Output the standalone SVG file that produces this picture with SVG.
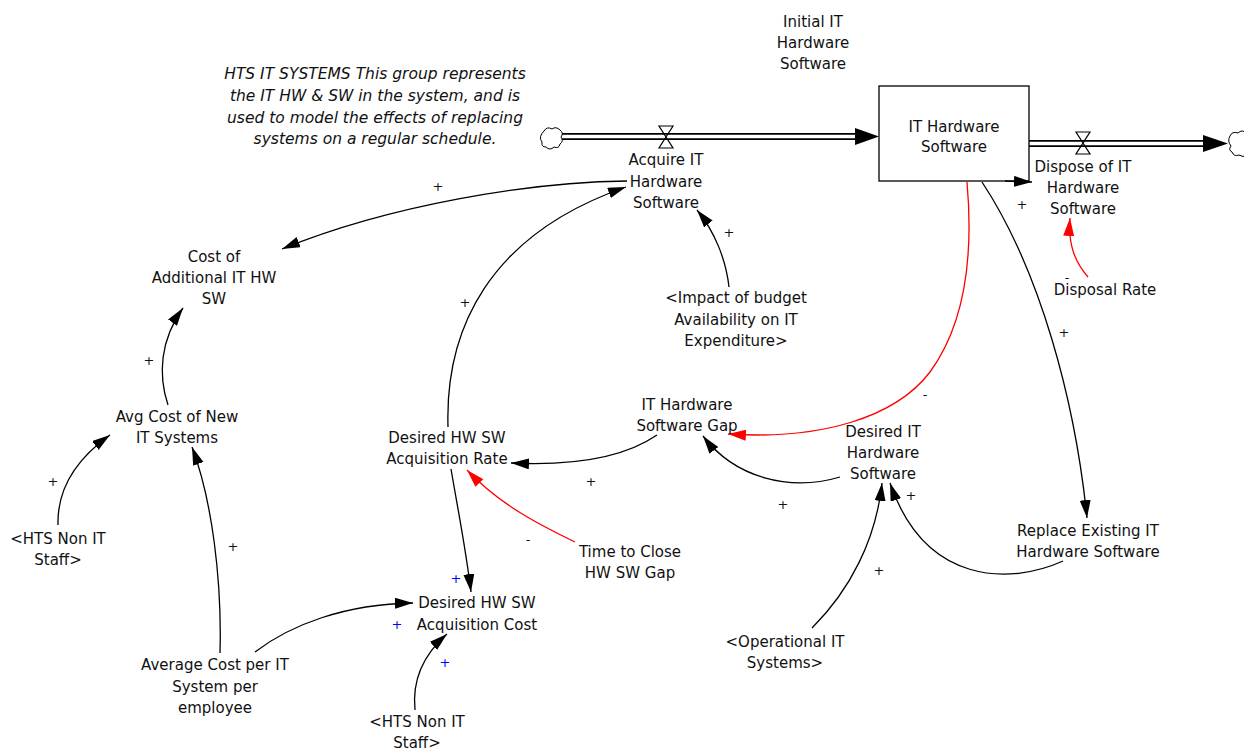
<svg xmlns="http://www.w3.org/2000/svg" width="1244" height="750" viewBox="0 0 1244 750">
  <style>
    text { font-family: "DejaVu Sans", Verdana, sans-serif; font-size: 15px; fill: #111; text-anchor: middle; }
    .note { font-style: italic; font-size: 15.5px; }
    .pol { font-size: 13px; }
    .blue { fill: #0000ff; }
    .link { fill: none; stroke: #000; stroke-width: 1.3; marker-end: url(#arr); }
    .neg { fill: none; stroke: #ff0000; stroke-width: 1.3; marker-end: url(#arrRed); }
    .pipeOuter { fill: none; stroke: #000; stroke-width: 7; }
    .pipeInner { fill: none; stroke: #fff; stroke-width: 3.6; }
    .valve { fill: none; stroke: #000; stroke-width: 1.2; }
    .cloud { fill: #fff; stroke: #000; stroke-width: 1; }
  </style>
  <defs>
    <marker id="arr" markerUnits="userSpaceOnUse" markerWidth="19" markerHeight="12" refX="18" refY="5.5" orient="auto">
      <path d="M0,0 L18,5.5 L0,11 z" fill="#000"/>
    </marker>
    <marker id="arrRed" markerUnits="userSpaceOnUse" markerWidth="19" markerHeight="12" refX="18" refY="5.5" orient="auto">
      <path d="M0,0 L18,5.5 L0,11 z" fill="#ff0000"/>
    </marker>
  </defs>

  <rect width="1244" height="750" fill="#fff"/>

  <!-- group comment -->
  <g id="comment">
    <text class="note" x="375" y="79">HTS IT SYSTEMS This group represents</text>
    <text class="note" x="375" y="101">the IT HW &amp; SW in the system, and is</text>
    <text class="note" x="375" y="123">used to model the effects of replacing</text>
    <text class="note" x="375" y="144">systems on a regular schedule.</text>
  </g>

  <!-- flows: pipes, valves, clouds -->
  <g id="inflow">
    <path class="pipeOuter" d="M562,136.5 L857,136.5"/>
    <path class="pipeInner" d="M562,136.5 L857,136.5"/>
    <polygon points="855,128 879,136.5 855,145" fill="#000"/>
    <path class="valve" d="M659,126 L673,126 L659,148 L673,148 Z"/>
    <path class="cloud" d="M544,131 q3,-5 8,-2 q4,-3 8,1 q4,3 1,7 q3,4 -1,7 q-1,5 -6,3 q-4,4 -8,0 q-5,0 -4,-5 q-4,-5 2,-11 z"/>
  </g>
  <g id="outflow">
    <path class="pipeOuter" d="M1029,143.5 L1205,143.5"/>
    <path class="pipeInner" d="M1029,143.5 L1205,143.5"/>
    <polygon points="1203,135 1228,143.5 1203,152" fill="#000"/>
    <path class="valve" d="M1076,132 L1090,132 L1076,154 L1090,154 Z"/>
    <path class="cloud" d="M1230,136 q2,-5 8,-3 q4,-4 9,0 l0,22 q-4,3 -8,0 q-5,2 -7,-3 q-4,-2 -1,-6 q-4,-5 -1,-10 z"/>
  </g>

  <!-- stock -->
  <g id="stock-it-hw-sw">
    <rect x="879" y="86" width="150" height="95" fill="#fff" stroke="#000" stroke-width="1.3"/>
    <text x="954" y="132">IT Hardware</text>
    <text x="954" y="152">Software</text>
  </g>

  <!-- connectors -->
  <g id="connectors">
    <path class="link" d="M627,181 C530,182 390,205 282,249"/>
    <path class="link" d="M168,405 C158,375 160,340 183,308"/>
    <path class="link" d="M58,525 C57,490 75,460 110,435"/>
    <path class="link" d="M220,653 C222,580 212,500 192,447"/>
    <path class="link" d="M448,427 C445,330 488,235 626,187"/>
    <path class="link" d="M729,287 C726,260 715,232 697,210"/>
    <path class="link" d="M1005,181 L1032,182"/>
    <path class="neg" d="M1088,277 C1075,262 1068,245 1070,218"/>
    <path class="link" d="M982,182 C1040,270 1075,400 1087,518"/>
    <path class="neg" d="M967,182 C973,250 968,320 930,372 C895,418 820,440 728,434"/>
    <path class="link" d="M657,435 C625,457 575,466 511,463"/>
    <path class="neg" d="M575,542 C540,525 500,505 467,470"/>
    <path class="link" d="M840,477 C790,492 735,478 703,436"/>
    <path class="link" d="M1063,561 C1010,585 925,585 890,483"/>
    <path class="link" d="M812,628 C850,590 876,540 882,483"/>
    <path class="link" d="M451,469 C458,510 466,550 471,592"/>
    <path class="link" d="M255,652 C290,625 345,604 413,603"/>
    <path class="link" d="M415,710 C412,680 423,655 447,634"/>

    <!-- polarity marks -->
    <text class="pol" x="438" y="191">+</text>
    <text class="pol" x="149" y="365">+</text>
    <text class="pol" x="53" y="486">+</text>
    <text class="pol" x="233" y="551">+</text>
    <text class="pol" x="465" y="307">+</text>
    <text class="pol" x="729" y="237">+</text>
    <text class="pol" x="1022" y="209">+</text>
    <text class="pol" x="1067" y="282">-</text>
    <text class="pol" x="1064" y="337">+</text>
    <text class="pol" x="925" y="399">-</text>
    <text class="pol" x="591" y="486">+</text>
    <text class="pol" x="528" y="544">-</text>
    <text class="pol" x="783" y="509">+</text>
    <text class="pol" x="911" y="500">+</text>
    <text class="pol" x="879" y="575">+</text>
    <text class="pol blue" x="456" y="583">+</text>
    <text class="pol blue" x="397" y="629">+</text>
    <text class="pol blue" x="445" y="667">+</text>
  </g>

  <!-- variables -->
  <g id="initial-it-hw-sw">
    <text x="813" y="27">Initial IT</text>
    <text x="813" y="48">Hardware</text>
    <text x="813" y="69">Software</text>
  </g>
  <g id="acquire-it-hw-sw">
    <text x="666" y="165">Acquire IT</text>
    <text x="666" y="187">Hardware</text>
    <text x="666" y="208">Software</text>
  </g>
  <g id="dispose-it-hw-sw">
    <text x="1083" y="172">Dispose of IT</text>
    <text x="1083" y="193">Hardware</text>
    <text x="1083" y="214">Software</text>
  </g>
  <g id="disposal-rate">
    <text x="1105" y="295">Disposal Rate</text>
  </g>
  <g id="impact-budget">
    <text x="736" y="303">&lt;Impact of budget</text>
    <text x="736" y="325">Availability on IT</text>
    <text x="736" y="346">Expenditure&gt;</text>
  </g>
  <g id="cost-additional">
    <text x="214" y="262">Cost of</text>
    <text x="214" y="283">Additional IT HW</text>
    <text x="214" y="304">SW</text>
  </g>
  <g id="avg-cost-new">
    <text x="177" y="422">Avg Cost of New</text>
    <text x="177" y="443">IT Systems</text>
  </g>
  <g id="hts-non-it-staff-1">
    <text x="58" y="544">&lt;HTS Non IT</text>
    <text x="58" y="565">Staff&gt;</text>
  </g>
  <g id="avg-cost-per-system">
    <text x="215" y="670">Average Cost per IT</text>
    <text x="215" y="692">System per</text>
    <text x="215" y="713">employee</text>
  </g>
  <g id="desired-acq-rate">
    <text x="447" y="443">Desired HW SW</text>
    <text x="447" y="464">Acquisition Rate</text>
  </g>
  <g id="desired-acq-cost">
    <text x="477" y="608">Desired HW SW</text>
    <text x="477" y="630">Acquisition Cost</text>
  </g>
  <g id="hts-non-it-staff-2">
    <text x="417" y="727">&lt;HTS Non IT</text>
    <text x="417" y="748">Staff&gt;</text>
  </g>
  <g id="hw-sw-gap">
    <text x="687" y="410">IT Hardware</text>
    <text x="687" y="431">Software Gap</text>
  </g>
  <g id="time-to-close">
    <text x="630" y="557">Time to Close</text>
    <text x="630" y="578">HW SW Gap</text>
  </g>
  <g id="desired-it-hw-sw">
    <text x="883" y="437">Desired IT</text>
    <text x="883" y="458">Hardware</text>
    <text x="883" y="479">Software</text>
  </g>
  <g id="replace-existing">
    <text x="1088" y="536">Replace Existing IT</text>
    <text x="1088" y="557">Hardware Software</text>
  </g>
  <g id="operational-it">
    <text x="785" y="647">&lt;Operational IT</text>
    <text x="785" y="668">Systems&gt;</text>
  </g>
</svg>
